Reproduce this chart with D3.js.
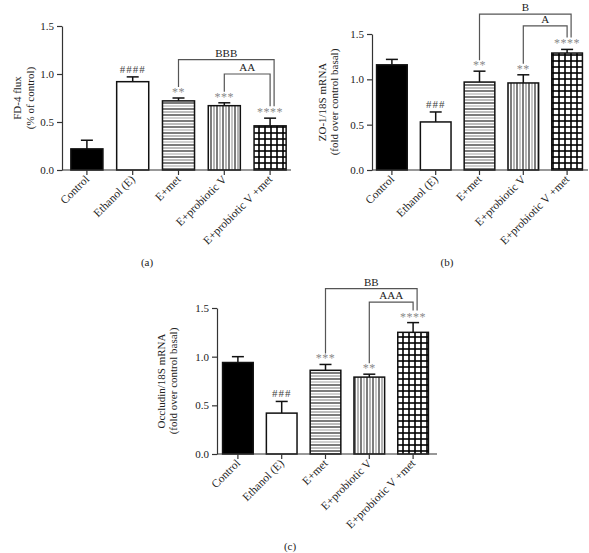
<!DOCTYPE html>
<html><head><meta charset="utf-8">
<script src="https://cdn.jsdelivr.net/npm/d3@7/dist/d3.min.js"></script>
<style>body{margin:0;background:#fff}svg{display:block}text{font-family:"Liberation Serif","Times New Roman",serif}</style>
</head><body><svg id="c" width="589" height="553"></svg>
<script>
const categories = ["Control","Ethanol (E)","E+met","E+probiotic V","E+probiotic V +met"];
const yTicks = [0,0.5,1.0,1.5];
// panel (a)
const fluxMeans = [0.22,0.92,0.72,0.67,0.46];
const fluxErr   = [0.09,0.05,0.03,0.03,0.08];
const fluxMarks = ["","####","**","***","****"];
const fluxBrackets = [{from:2,to:4,level:1.15,label:"BBB"},{from:3,to:4,level:1.0,label:"AA"}];
// panel (b)
const zoMeans = [1.16,0.53,0.97,0.96,1.29];
const zoErr   = [0.06,0.11,0.12,0.09,0.04];
const zoMarks = ["","###","**","**","****"];
const zoBrackets = [{from:2,to:4,level:1.72,label:"B"},{from:3,to:4,level:1.59,label:"A"}];
// panel (c)
const occMeans = [0.94,0.42,0.86,0.79,1.25];
const occErr   = [0.06,0.12,0.06,0.03,0.10];
const occMarks = ["","###","***","**","****"];
const occBrackets = [{from:2,to:4,level:1.70,label:"BB"},{from:3,to:4,level:1.56,label:"AAA"}];

const svg = d3.select("#c");
const defs = svg.append("defs");
// patterns
const ph = defs.append("pattern").attr("id","hl").attr("patternUnits","userSpaceOnUse").attr("width",8).attr("height",12);
ph.append("rect").attr("width",8).attr("height",12).attr("fill","#fff");
[[1,"#111"],[4,"#888"],[7,"#111"],[10,"#aaa"]].forEach(([y,c])=>ph.append("line").attr("x1",0).attr("x2",8).attr("y1",y).attr("y2",y).attr("stroke",c).attr("stroke-width",1.1));
const pv = defs.append("pattern").attr("id","vl").attr("patternUnits","userSpaceOnUse").attr("width",12).attr("height",8);
pv.append("rect").attr("width",12).attr("height",8).attr("fill","#fff");
[[1,"#111"],[4,"#999"],[7,"#111"],[10,"#777"]].forEach(([x,c])=>pv.append("line").attr("y1",0).attr("y2",8).attr("x1",x).attr("x2",x).attr("stroke",c).attr("stroke-width",1.1));
const pg = defs.append("pattern").attr("id","gr").attr("patternUnits","userSpaceOnUse").attr("width",6).attr("height",6);
pg.append("rect").attr("width",6).attr("height",6).attr("fill","#fff");
pg.append("line").attr("x1",0).attr("x2",6).attr("y1",1).attr("y2",1).attr("stroke","#000").attr("stroke-width",1.6);
pg.append("line").attr("y1",0).attr("y2",6).attr("x1",1).attr("x2",1).attr("stroke","#000").attr("stroke-width",1.6);
const fills = ["#000","#fff","url(#hl)","url(#vl)","url(#gr)"];

function panel(cfg){
  const {means,errs,marks,brackets,axisX,axisEnd,range,yTop,yBot,title,titleX,tag,tagPos} = cfg;
  const g = svg.append("g");
  const x = d3.scaleBand().domain(categories).range(range).paddingInner(0.3).paddingOuter(0.15);
  const y = d3.scaleLinear().domain([0,1.5]).range([yBot,yTop]);
  // y axis
  const ya = g.append("g").attr("transform",`translate(${axisX},0)`)
    .call(d3.axisLeft(y).tickValues(yTicks).tickFormat(d3.format(".1f")).tickSize(5).tickSizeOuter(0));
  ya.select(".domain").attr("stroke","#333").attr("stroke-width",1.2);
  ya.selectAll(".tick line").attr("stroke","#333").attr("stroke-width",1.2);
  ya.selectAll(".tick text").attr("font-size",11).attr("fill","#222").attr("font-family","Liberation Serif");
  // bars
  const bw = x.bandwidth();
  categories.forEach((c,i)=>{
    const cx = x(c)+bw/2;
    const top = y(means[i]), et = y(means[i]+errs[i]);
    g.append("line").attr("x1",cx).attr("x2",cx).attr("y1",top).attr("y2",et).attr("stroke","#111").attr("stroke-width",1.5);
    g.append("line").attr("x1",cx-6).attr("x2",cx+6).attr("y1",et).attr("y2",et).attr("stroke","#111").attr("stroke-width",1.5);
    g.append("rect").attr("x",x(c)).attr("y",top).attr("width",bw).attr("height",yBot-top)
      .attr("fill",fills[i]).attr("stroke","#111").attr("stroke-width",1.5);
    if(marks[i]){
      const isHash = marks[i][0]==="#";
      g.append("text").attr("x",cx).attr("y",et-(isHash?4:2)).attr("text-anchor","middle")
        .attr("font-size",isHash?11:12).attr("fill",isHash?"#444":"#888").attr("letter-spacing",isHash?1:0.5).text(marks[i]);
    }
  });
  // x axis
  const xa = g.append("g").attr("transform",`translate(0,${yBot})`);
  xa.append("line").attr("x1",axisX).attr("x2",axisEnd).attr("stroke","#333").attr("stroke-width",1.2);
  categories.forEach(c=>{
    const cx = x(c)+bw/2;
    xa.append("line").attr("x1",cx).attr("x2",cx).attr("y1",0).attr("y2",5).attr("stroke","#333").attr("stroke-width",1.2);
    xa.append("text").attr("transform",`translate(${cx+3},${10}) rotate(-45)`).attr("text-anchor","end")
      .attr("font-size",11.5).attr("fill","#222").text(c);
  });
  // brackets
  brackets.forEach(b=>{
    const x1 = x(categories[b.from])+bw/2, x2 = x(categories[b.to])+bw/2 + (b===brackets[0]?4:0);
    const yy = y(b.level);
    const b1 = y(means[b.from]+errs[b.from])-11, b2 = y(means[b.to]+errs[b.to])-12;
    g.append("path").attr("d",`M${x1},${b1}V${yy}H${x2}V${b2}`).attr("fill","none").attr("stroke","#555").attr("stroke-width",1.2);
    g.append("text").attr("x",(x1+x2)/2).attr("y",yy-3).attr("text-anchor","middle").attr("font-size",11).attr("fill","#222").text(b.label);
  });
  // y title
  const cy = (yTop+yBot)/2;
  title.forEach((t,k)=>{
    g.append("text").attr("transform",`translate(${titleX[k]},${cy}) rotate(-90)`).attr("text-anchor","middle")
      .attr("font-size",11).attr("fill","#222").text(t);
  });
  g.append("text").attr("x",tagPos[0]).attr("y",tagPos[1]).attr("text-anchor","middle").attr("font-size",11).attr("fill","#222").text(tag);
}

panel({means:fluxMeans,errs:fluxErr,marks:fluxMarks,brackets:fluxBrackets,axisX:62,axisEnd:291,range:[64,293],yTop:26,yBot:170,
  title:["FD-4 flux","(% of control)"],titleX:[21,34],tag:"(a)",tagPos:[147,266]});
panel({means:zoMeans,errs:zoErr,marks:zoMarks,brackets:zoBrackets,axisX:372,axisEnd:588,range:[370,589],yTop:34,yBot:170,
  title:["ZO-1/18S mRNA","(fold over control basal)"],titleX:[326,338],tag:"(b)",tagPos:[447,266]});
panel({means:occMeans,errs:occErr,marks:occMarks,brackets:occBrackets,axisX:217,axisEnd:437,range:[216,435],yTop:308,yBot:454,
  title:["Occludin/18S mRNA","(fold over control basal)"],titleX:[165,177],tag:"(c)",tagPos:[290,550]});
</script></body></html>
